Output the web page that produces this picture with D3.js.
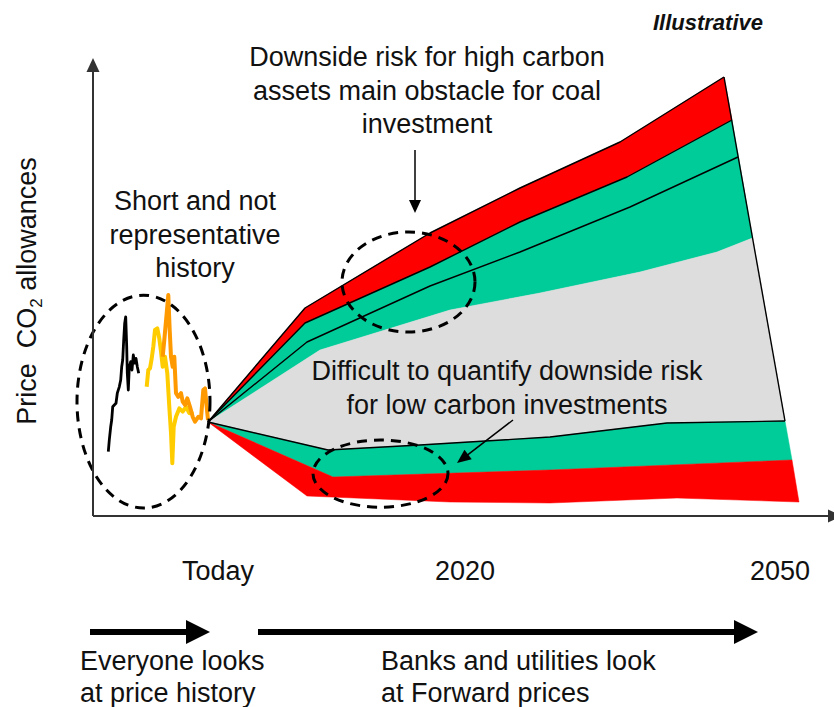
<!DOCTYPE html>
<html><head><meta charset="utf-8">
<script src="https://cdn.jsdelivr.net/npm/d3@7"></script>
<style>html,body{margin:0;padding:0;background:#fff;} svg{display:block}</style>
</head><body>
<svg id="chart" width="834" height="707"></svg>
<script>
// ---------- DATA (t = time units, Today = 0; v = price index) ----------
const tickLabels = ["Today", "2020", "2050"];
const tickPos = [1.0, 25.7, 57.2];

// Price history (three periods)
const histBlack = [[-9.97,16.1],[-9.87,19],[-9.73,22.3],[-9.63,24],[-9.53,27.3],[-9.37,27.75],[-9.2,28.2],[-9.07,30.7],[-8.87,32.3],[-8.73,34],[-8.63,37.3],[-8.53,39],[-8.43,44],[-8.33,48.2],[-8.23,49.8],[-8.13,42.3],[-8.07,35.7],[-7.97,31.5],[-7.87,37.3],[-7.73,38.6],[-7.6,36.5],[-7.47,40.25],[-7.33,38.2],[-7.2,39.4],[-7.07,37.3],[-6.93,35.7]];
const histYellow = [[-6.13,32.3],[-5.97,36.5],[-5.8,36.9],[-5.63,39.4],[-5.47,42.3],[-5.3,46.5],[-5.07,46.9],[-4.87,44.4],[-4.7,41.1],[-4.53,37.3],[-4.3,39.8],[-4.07,35.7],[-3.87,27.3],[-3.7,20.7],[-3.57,13.2],[-3.43,22.3],[-3.2,24.8],[-2.87,26.9],[-2.53,26.1],[-2.2,27.3],[-1.87,25.7],[-1.47,26.1]];
const histOrange = [[-4.53,39.8],[-4.37,44],[-4.13,50.7],[-3.97,55.25],[-3.83,46.5],[-3.7,39.8],[-3.53,37.3],[-3.37,39.8],[-3.2,30.7],[-2.97,29.8],[-2.7,30.7],[-2.53,28.6],[-2.3,27.75],[-2.07,29.4],[-1.8,27.3],[-1.53,24.8],[-1.3,23.6],[-0.97,24.8],[-0.7,24.4],[-0.47,31.5],[-0.3,31.9],[-0.13,27.3],[0,24]];

// Forward price fan boundaries
const redTop        = [[0,23.5],[9.7,52],[22.2,70.75],[31.2,82],[41.2,93.5],[51.6,109.75]];
const upperRedGreen = [[0,23.5],[9.7,48.25],[22.2,62.25],[31.2,73.5],[41.9,84.75],[52.4,99]];
const midLine       = [[0,23.5],[9.9,43.5],[22.2,57.5],[31.2,66],[42.2,77.25],[53,89.75]];
const greenGrey     = [[0,23.5],[11.2,41.5],[24.2,51.5],[33.2,55.75],[43.2,61],[50.9,66],[54.45,69.5]];
const greyBottom    = [[0,23.5],[12,16.5],[21.2,17.75],[34.2,19.75],[45.9,23.25],[57.7,23.75]];
const lowerGreenRed = [[0,23.5],[12.5,9.75],[34.2,11.5],[58.4,14]];
const redBottom     = [[0,23.5],[9.9,5],[24.2,3.5],[34.2,3.25],[46.9,4.5],[59.1,3.5]];

// Highlight ellipses: [centre t, centre v, radius t, radius v]
const ellipses = [[-6.45,28.6,6.65,26.6],[20.05,58.5,6.65,12.5],[17.25,10.6,6.75,8.4]];

// ---------- DRAWING ----------
const FONT = "'Liberation Sans', Arial, sans-serif";
const RED = "#FF0000", GREEN = "#00CC99", GREY = "#DDDDDD";
const svg = d3.select("#chart");
svg.append("rect").attr("width",834).attr("height",707).attr("fill","#fff");

const x = d3.scaleLinear().domain([-11.5, 62.6]).range([93, 834]);
const y = d3.scaleLinear().domain([0, 114]).range([516, 60]);
const line = d3.line().x(d => x(d[0])).y(d => y(d[1]));
const poly = (a, b) => line(a.concat(b.slice().reverse())) + "Z";

// bands
const bands = [
  [redTop, upperRedGreen, RED],
  [upperRedGreen, greenGrey, GREEN],
  [greenGrey, greyBottom, GREY],
  [greyBottom, lowerGreenRed, GREEN],
  [lowerGreenRed, redBottom, RED]
];
svg.append("g").selectAll("path").data(bands).join("path")
  .attr("d", d => poly(d[0], d[1])).attr("fill", d => d[2]).attr("stroke", d => d[2]).attr("stroke-width", 0.5);

// outlines
const outl = svg.append("g").attr("fill","none").attr("stroke","#000").attr("stroke-width",1.4).attr("stroke-linejoin","round");
[redTop, upperRedGreen, midLine, greyBottom].forEach(s => outl.append("path").attr("d", line(s)));
outl.append("path").attr("d", line([redTop[redTop.length-1], greyBottom[greyBottom.length-1]]));

// history
const hist = svg.append("g").attr("fill","none").attr("stroke-linejoin","round");
hist.append("path").attr("d", line(histBlack)).attr("stroke","#000").attr("stroke-width",2.8);
hist.append("path").attr("d", line(histYellow)).attr("stroke","#FFCC00").attr("stroke-width",4);
hist.append("path").attr("d", line(histOrange)).attr("stroke","#FF9900").attr("stroke-width",4);

// dashed ellipses
svg.append("g").selectAll("ellipse").data(ellipses).join("ellipse")
  .attr("cx", d => x(d[0])).attr("cy", d => y(d[1]))
  .attr("rx", d => x(d[0] + d[2]) - x(d[0])).attr("ry", d => y(d[1]) - y(d[1] + d[3]))
  .attr("fill","none").attr("stroke","#000").attr("stroke-width",3).attr("stroke-dasharray","10,7");

// arrow helper
function arrow(g, x1, y1, x2, y2, sw, hl, hw, color) {
  const dx = x2 - x1, dy = y2 - y1, L = Math.hypot(dx, dy), ux = dx / L, uy = dy / L;
  const bx = x2 - ux * hl, by = y2 - uy * hl;
  g.append("line").attr("x1", x1).attr("y1", y1).attr("x2", bx + ux * 1).attr("y2", by + uy * 1)
    .attr("stroke", color).attr("stroke-width", sw);
  g.append("path").attr("d", `M${x2},${y2}L${bx - uy * hw / 2},${by + ux * hw / 2}L${bx + uy * hw / 2},${by - ux * hw / 2}Z`)
    .attr("fill", color);
}
const ag = svg.append("g");
// axes
arrow(ag, x(-11.5), y(0), x(-11.5), y(114.5), 2, 14, 13, "#333");
arrow(ag, x(-11.5), y(0), 842, y(0), 2, 14, 13, "#333");
// annotation arrows
arrow(ag, 415, 150, 415, 213, 1.5, 13, 12, "#000");
arrow(ag, 513, 420, 457, 463, 1.5, 14, 12, "#000");
// bottom timeline arrows
arrow(ag, 90, 632, 210, 632, 6, 24, 24, "#000");
arrow(ag, 258, 632, 758, 632, 6, 24, 24, "#000");

// texts
const T = svg.append("g").attr("font-family", FONT).attr("fill", "#111").attr("font-size", 27);
function lines(arr, cx, y0, dy, anchor) {
  arr.forEach((s, i) => T.append("text").attr("x", cx).attr("y", y0 + i * dy).attr("text-anchor", anchor).text(s));
}
lines(["Downside risk for high carbon", "assets main obstacle for coal", "investment"], 427, 66, 33.5, "middle");
lines(["Short and not", "representative", "history"], 195, 210, 33.5, "middle");
lines(["Difficult to quantify downside risk", "for low carbon investments"], 507, 380, 33.5, "middle");
lines(["Everyone looks", "at price history"], 80, 670, 32, "start");
lines(["Banks and utilities look", "at Forward prices"], 381, 670, 32, "start");

// tick labels
T.selectAll("text.tick").data(tickLabels).join("text").attr("class","tick")
  .attr("x", (d, i) => x(tickPos[i])).attr("y", 580).attr("text-anchor","middle").text(d => d);

// y label
const yl = T.append("text").attr("transform", "translate(36,291) rotate(-90)").attr("text-anchor","middle");
yl.append("tspan").text("Price  CO").attr("xml:space","preserve");
yl.append("tspan").text("2").attr("font-size", 17).attr("dy", 6);
yl.append("tspan").text(" allowances").attr("dy", -6);

// Illustrative
svg.append("text").attr("x", 708).attr("y", 30).attr("text-anchor","middle")
  .attr("font-family", FONT).attr("font-size", 22).attr("font-weight","bold").attr("font-style","italic")
  .attr("fill","#111").text("Illustrative");
</script></body></html>
